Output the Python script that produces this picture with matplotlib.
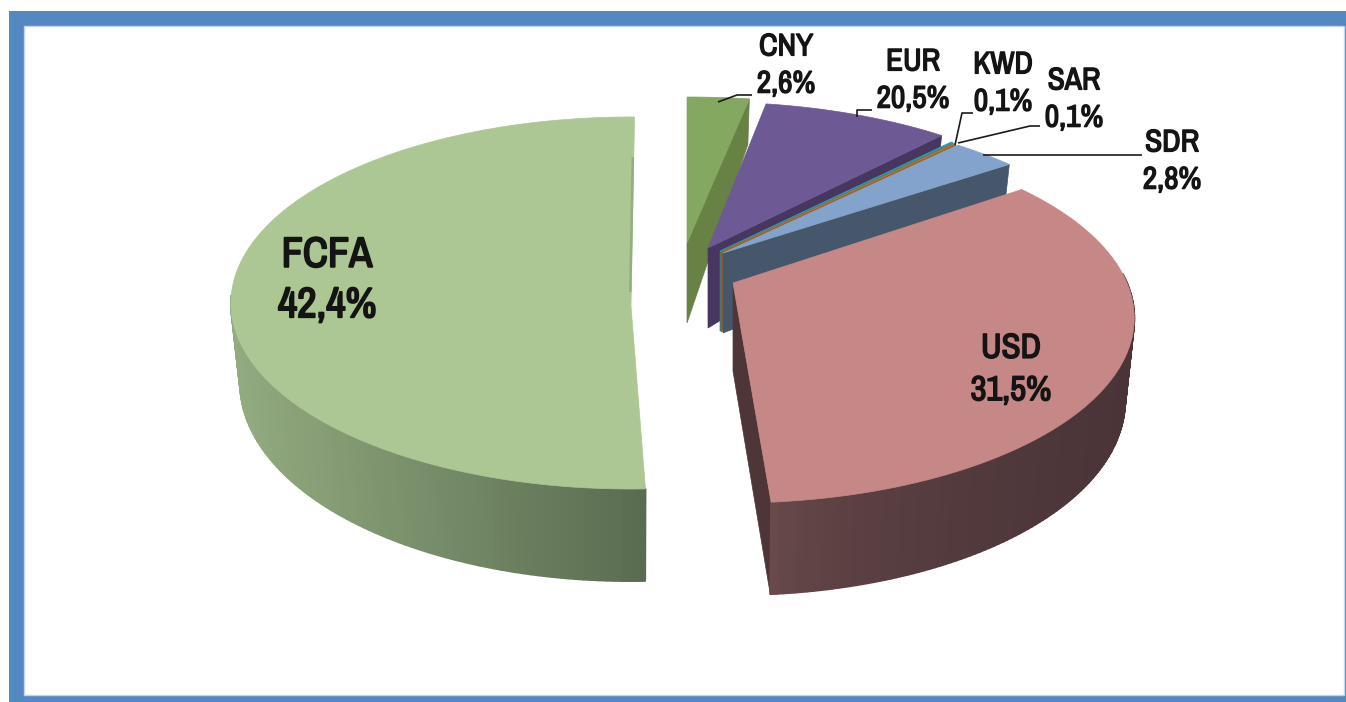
import numpy as np
import matplotlib
matplotlib.use("Agg")
import matplotlib.pyplot as plt
import matplotlib.patheffects as pe
from matplotlib.patches import Polygon, Rectangle
from matplotlib.colors import to_rgb

# Data
categories = ["CNY", "EUR", "KWD", "SAR", "SDR", "USD", "FCFA"]
labelled_values = ["2,6%", "20,5%", "0,1%", "0,1%", "2,8%", "31,5%", "42,4%"]
# The slices in the picture are not drawn to the printed values: angular shares as drawn
drawn_shares = [2.8, 9.0, 0.1, 0.1, 3.1, 33.6, 51.2]

# Styles and geometry
top_colors = ["#84A85F", "#6D5A94", "#2E9AA8", "#B8702F", "#84A3CC", "#C68886", "#ACC793"]
wall_colors = ["#688245", "#47365F", "#2E7F8A", "#9A5A24", "#46566B", "#4D3538", "#5C6F52"]
arc_light = {"USD": "#6E4E4F", "FCFA": "#93AB80"}
arc_dark = {"USD": "#4A3437", "FCFA": "#5A6C50"}
arc_gamma = {"USD": 0.45, "FCFA": 1.0}
apex = [(687, 243), (708, 248), (720, 251), (721, 252), (723, 253), (733, 283), (631, 306)]
radius_x = [425, 396, 396, 396, 396, 394, 400]
back_ry = [146, 146, 141, 141, 141, 150, 189]
front_ry = [218, 218, 218, 218, 218, 220, 183]
twist_deg = [0, 0, 0, 0, 0, 0, 0.5]
start_trim_deg = [0, 0, 0, 0, 0, 0, 1.9]
shrink = 0.977

fig = plt.figure(figsize=(13.46, 7.02), dpi=100)
ax = fig.add_axes([0, 0, 1, 1])
ax.set_xlim(0, 1346)
ax.set_ylim(702, 0)
ax.axis("off")

ax.add_patch(Rectangle((9, 11), 1337, 691, fc="#5488C0", ec="none", zorder=0))
ax.add_patch(Rectangle((24, 26), 1320, 669, fc="white", ec="#C6D4E6", lw=1, zorder=0.5))


def ring(i, theta):
    """Project a circle angle (clockwise from the back) to the top-surface pixels."""
    theta = theta + np.radians(twist_deg[i])
    x_, y_ = np.sin(theta), np.cos(theta)
    b, f = back_ry[i], front_ry[i]
    p = (f - b) / (f + b)
    q = b * (1 + p)
    w = 1 + p * y_
    return apex[i][0] + radius_x[i] * x_ / w, apex[i][1] - q * y_ / w


def depth(y_):
    return 80 + np.where(y_ < 0, -12 * y_, -35 * y_)


def lower(i, theta, x, y):
    d = depth(np.cos(theta))
    return apex[i][0] + (x - apex[i][0]) * shrink, y + d


edges = np.radians(np.concatenate([[0], np.cumsum(drawn_shares)]) / sum(drawn_shares) * 360)

z = 1.0
for i, cat in enumerate(categories):
    th = np.linspace(edges[i] + np.radians(start_trim_deg[i]), edges[i + 1], 160)
    xs, ys = ring(i, th)
    xb, yb = lower(i, th, xs, ys)
    a = apex[i]
    a_low = (a[0], a[1] + 80)
    # radial walls
    if cat in ("CNY", "EUR", "KWD", "SAR", "SDR"):
        ax.add_patch(Polygon([a, (xs[-1], ys[-1]), (xb[-1], yb[-1]), a_low],
                             fc=wall_colors[i], ec=wall_colors[i], lw=0.5, zorder=z))
    elif cat == "USD":
        ax.add_patch(Polygon([a, (xs[-1], ys[-1]), (xb[-1], yb[-1]), (a_low[0], a_low[1] + 8)],
                             fc=wall_colors[i], ec=wall_colors[i], lw=0.5, zorder=z))
    z += 0.1
    # outer wall with a gradient along the arc
    if cat in arc_light:
        idx = np.where(np.cos(th) < 0.05)[0]
        c0, c1 = np.array(to_rgb(arc_light[cat])), np.array(to_rgb(arc_dark[cat]))
        xmin, xmax = xs[idx].min(), xs[idx].max()
        for j in idx[:-1]:
            t = (xs[j] - xmin) / (xmax - xmin)
            col = c0 + (c1 - c0) * t ** arc_gamma[cat]
            ax.add_patch(Polygon([(xs[j], ys[j]), (xs[j + 1], ys[j + 1]),
                                  (xb[j + 1], yb[j + 1]), (xb[j], yb[j])],
                                 fc=col, ec=col, lw=1.4, zorder=z, joinstyle="round"))
    z += 0.1
    # top surface
    ax.add_patch(Polygon(np.vstack([[a], np.column_stack([xs, ys])]),
                         fc=top_colors[i], ec=top_colors[i], lw=0.5, zorder=z))
    z += 0.1

# Darker back edge of the large slice
i_f = categories.index("FCFA")
xf, yf = ring(i_f, edges[-1])
fx = np.array([0.22, 0.92])
ax.plot(xf + (apex[i_f][0] - xf) * fx - 1, yf + (apex[i_f][1] - yf) * fx,
        color="#93AE82", lw=1.8, zorder=z)

# Leader lines
leaders = {
    "CNY": [(718, 102), (737, 95), (752, 95)],
    "EUR": [(857, 117), (857, 110), (872, 110)],
    "KWD": [(955, 145), (962, 113), (973, 113)],
    "SAR": [(958, 143), (1030, 126), (1040, 126)],
    "SDR": [(983, 155), (1142, 155)],
}
for pts in leaders.values():
    ax.plot(*zip(*pts), color="#1A1A1A", lw=1.2, zorder=z + 1, solid_capstyle="butt")

# Labels
font = ["Archivo Narrow", "Roboto Condensed", "Liberation Sans", "DejaVu Sans"]
label_pos = {
    "CNY": (786, 65, 22.5), "EUR": (913, 80, 22.5), "KWD": (1003, 83, 22.5), "SAR": (1074, 99, 22.5),
    "SDR": (1172, 161, 22.5), "USD": (1011, 369, 25), "FCFA": (327, 280, 30.5),
}
for cat, val in zip(categories, labelled_values):
    lx, ly, size = label_pos[cat]
    ax.text(lx, ly, f"{cat}\n{val}", ha="center", va="center", ma="center",
            fontsize=size, fontweight="bold", family=font, color="#141414",
            linespacing=1.4, zorder=z + 2,
            path_effects=[pe.withStroke(linewidth=size * 0.045, foreground="#141414")])

fig.savefig("out.png", dpi=100, facecolor="white")
